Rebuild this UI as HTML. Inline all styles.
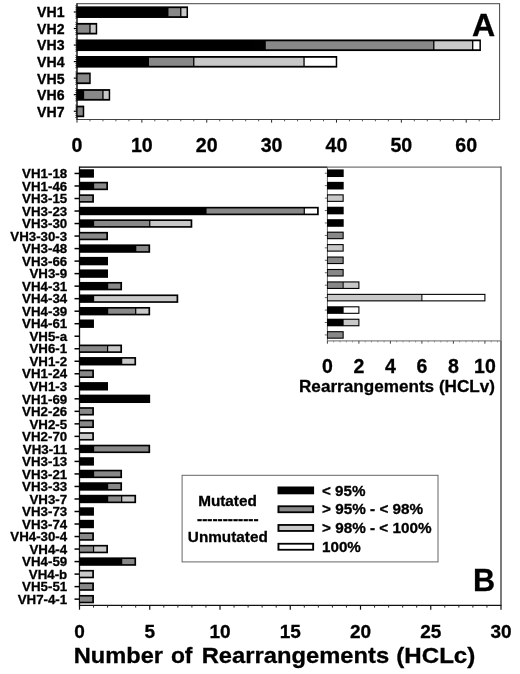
<!DOCTYPE html>
<html><head><meta charset="utf-8"><title>Chart</title>
<style>
html,body{margin:0;padding:0;background:#fff;}
body{width:520px;height:674px;overflow:hidden;font-family:"Liberation Sans",sans-serif;}
svg{display:block;will-change:transform;opacity:0.999;}
svg text{font-family:"Liberation Sans",sans-serif;font-weight:bold;fill:#000;stroke:#000;stroke-width:0.3px;}
</style></head><body>
<svg width="520" height="674" viewBox="0 0 520 674">
<rect x="0" y="0" width="520" height="674" fill="#fff"/>
<rect x="77.0" y="3.7" width="422.60" height="115.80" fill="none" stroke="#444" stroke-width="1"/>
<line x1="77.00" y1="3.20" x2="77.00" y2="120.00" stroke="#2a2a2a" stroke-width="1.3"/>
<line x1="73.80" y1="11.97" x2="77.00" y2="11.97" stroke="#000" stroke-width="1.2"/>
<line x1="75.30" y1="5.77" x2="77.00" y2="5.77" stroke="#333" stroke-width="0.9"/>
<line x1="75.30" y1="7.84" x2="77.00" y2="7.84" stroke="#333" stroke-width="0.9"/>
<line x1="75.30" y1="9.90" x2="77.00" y2="9.90" stroke="#333" stroke-width="0.9"/>
<line x1="75.30" y1="14.04" x2="77.00" y2="14.04" stroke="#333" stroke-width="0.9"/>
<line x1="75.30" y1="16.11" x2="77.00" y2="16.11" stroke="#333" stroke-width="0.9"/>
<line x1="75.30" y1="18.17" x2="77.00" y2="18.17" stroke="#333" stroke-width="0.9"/>
<rect x="76.40" y="6.37" width="111.63" height="11.60" fill="#000"/>
<rect x="168.47" y="8.17" width="11.67" height="8.00" fill="#888888"/>
<rect x="181.44" y="8.17" width="5.09" height="8.00" fill="#c8c8c8"/>
<text x="64.50" y="17.37" font-size="14.1" text-anchor="end" >VH1</text>
<line x1="73.80" y1="28.51" x2="77.00" y2="28.51" stroke="#000" stroke-width="1.2"/>
<line x1="75.30" y1="22.31" x2="77.00" y2="22.31" stroke="#333" stroke-width="0.9"/>
<line x1="75.30" y1="24.38" x2="77.00" y2="24.38" stroke="#333" stroke-width="0.9"/>
<line x1="75.30" y1="26.45" x2="77.00" y2="26.45" stroke="#333" stroke-width="0.9"/>
<line x1="75.30" y1="30.58" x2="77.00" y2="30.58" stroke="#333" stroke-width="0.9"/>
<line x1="75.30" y1="32.65" x2="77.00" y2="32.65" stroke="#333" stroke-width="0.9"/>
<line x1="75.30" y1="34.72" x2="77.00" y2="34.72" stroke="#333" stroke-width="0.9"/>
<rect x="76.40" y="22.91" width="20.81" height="11.60" fill="#000"/>
<rect x="77.60" y="24.71" width="11.72" height="8.00" fill="#888888"/>
<rect x="90.62" y="24.71" width="5.09" height="8.00" fill="#c8c8c8"/>
<text x="64.50" y="33.91" font-size="14.1" text-anchor="end" >VH2</text>
<line x1="73.80" y1="45.06" x2="77.00" y2="45.06" stroke="#000" stroke-width="1.2"/>
<line x1="75.30" y1="38.85" x2="77.00" y2="38.85" stroke="#333" stroke-width="0.9"/>
<line x1="75.30" y1="40.92" x2="77.00" y2="40.92" stroke="#333" stroke-width="0.9"/>
<line x1="75.30" y1="42.99" x2="77.00" y2="42.99" stroke="#333" stroke-width="0.9"/>
<line x1="75.30" y1="47.12" x2="77.00" y2="47.12" stroke="#333" stroke-width="0.9"/>
<line x1="75.30" y1="49.19" x2="77.00" y2="49.19" stroke="#333" stroke-width="0.9"/>
<line x1="75.30" y1="51.26" x2="77.00" y2="51.26" stroke="#333" stroke-width="0.9"/>
<rect x="76.40" y="39.46" width="404.52" height="11.60" fill="#000"/>
<rect x="265.77" y="41.26" width="167.36" height="8.00" fill="#888888"/>
<rect x="434.43" y="41.26" width="37.62" height="8.00" fill="#c8c8c8"/>
<rect x="473.36" y="41.26" width="6.06" height="8.00" fill="#fff"/>
<text x="64.50" y="50.46" font-size="14.1" text-anchor="end" >VH3</text>
<line x1="73.80" y1="61.60" x2="77.00" y2="61.60" stroke="#000" stroke-width="1.2"/>
<line x1="75.30" y1="55.40" x2="77.00" y2="55.40" stroke="#333" stroke-width="0.9"/>
<line x1="75.30" y1="57.46" x2="77.00" y2="57.46" stroke="#333" stroke-width="0.9"/>
<line x1="75.30" y1="59.53" x2="77.00" y2="59.53" stroke="#333" stroke-width="0.9"/>
<line x1="75.30" y1="63.67" x2="77.00" y2="63.67" stroke="#333" stroke-width="0.9"/>
<line x1="75.30" y1="65.74" x2="77.00" y2="65.74" stroke="#333" stroke-width="0.9"/>
<line x1="75.30" y1="67.80" x2="77.00" y2="67.80" stroke="#333" stroke-width="0.9"/>
<rect x="76.40" y="56.00" width="260.83" height="11.60" fill="#000"/>
<rect x="149.01" y="57.80" width="44.11" height="8.00" fill="#888888"/>
<rect x="194.42" y="57.80" width="108.98" height="8.00" fill="#c8c8c8"/>
<rect x="304.69" y="57.80" width="31.04" height="8.00" fill="#fff"/>
<text x="64.50" y="67.00" font-size="14.1" text-anchor="end" >VH4</text>
<line x1="73.80" y1="78.14" x2="77.00" y2="78.14" stroke="#000" stroke-width="1.2"/>
<line x1="75.30" y1="71.94" x2="77.00" y2="71.94" stroke="#333" stroke-width="0.9"/>
<line x1="75.30" y1="74.01" x2="77.00" y2="74.01" stroke="#333" stroke-width="0.9"/>
<line x1="75.30" y1="76.07" x2="77.00" y2="76.07" stroke="#333" stroke-width="0.9"/>
<line x1="75.30" y1="80.21" x2="77.00" y2="80.21" stroke="#333" stroke-width="0.9"/>
<line x1="75.30" y1="82.28" x2="77.00" y2="82.28" stroke="#333" stroke-width="0.9"/>
<line x1="75.30" y1="84.35" x2="77.00" y2="84.35" stroke="#333" stroke-width="0.9"/>
<rect x="76.40" y="72.54" width="14.32" height="11.60" fill="#000"/>
<rect x="77.60" y="74.34" width="11.62" height="8.00" fill="#888888"/>
<text x="64.50" y="83.54" font-size="14.1" text-anchor="end" >VH5</text>
<line x1="73.80" y1="94.69" x2="77.00" y2="94.69" stroke="#000" stroke-width="1.2"/>
<line x1="75.30" y1="88.48" x2="77.00" y2="88.48" stroke="#333" stroke-width="0.9"/>
<line x1="75.30" y1="90.55" x2="77.00" y2="90.55" stroke="#333" stroke-width="0.9"/>
<line x1="75.30" y1="92.62" x2="77.00" y2="92.62" stroke="#333" stroke-width="0.9"/>
<line x1="75.30" y1="96.75" x2="77.00" y2="96.75" stroke="#333" stroke-width="0.9"/>
<line x1="75.30" y1="98.82" x2="77.00" y2="98.82" stroke="#333" stroke-width="0.9"/>
<line x1="75.30" y1="100.89" x2="77.00" y2="100.89" stroke="#333" stroke-width="0.9"/>
<rect x="76.40" y="89.09" width="33.79" height="11.60" fill="#000"/>
<rect x="84.14" y="90.89" width="18.16" height="8.00" fill="#888888"/>
<rect x="103.60" y="90.89" width="5.09" height="8.00" fill="#c8c8c8"/>
<text x="64.50" y="100.09" font-size="14.1" text-anchor="end" >VH6</text>
<line x1="73.80" y1="111.23" x2="77.00" y2="111.23" stroke="#000" stroke-width="1.2"/>
<line x1="75.30" y1="105.02" x2="77.00" y2="105.02" stroke="#333" stroke-width="0.9"/>
<line x1="75.30" y1="107.09" x2="77.00" y2="107.09" stroke="#333" stroke-width="0.9"/>
<line x1="75.30" y1="109.16" x2="77.00" y2="109.16" stroke="#333" stroke-width="0.9"/>
<line x1="75.30" y1="113.30" x2="77.00" y2="113.30" stroke="#333" stroke-width="0.9"/>
<line x1="75.30" y1="115.36" x2="77.00" y2="115.36" stroke="#333" stroke-width="0.9"/>
<line x1="75.30" y1="117.43" x2="77.00" y2="117.43" stroke="#333" stroke-width="0.9"/>
<rect x="76.40" y="105.63" width="7.84" height="11.60" fill="#000"/>
<rect x="77.60" y="107.43" width="5.14" height="8.00" fill="#888888"/>
<text x="64.50" y="116.63" font-size="14.1" text-anchor="end" >VH7</text>
<line x1="77.00" y1="119.50" x2="77.00" y2="122.70" stroke="#2a2a2a" stroke-width="1"/>
<line x1="89.97" y1="119.50" x2="89.97" y2="121.30" stroke="#444" stroke-width="0.9"/>
<line x1="102.95" y1="119.50" x2="102.95" y2="121.30" stroke="#444" stroke-width="0.9"/>
<line x1="115.92" y1="119.50" x2="115.92" y2="121.30" stroke="#444" stroke-width="0.9"/>
<line x1="128.90" y1="119.50" x2="128.90" y2="121.30" stroke="#444" stroke-width="0.9"/>
<line x1="141.87" y1="119.50" x2="141.87" y2="122.70" stroke="#2a2a2a" stroke-width="1"/>
<line x1="154.84" y1="119.50" x2="154.84" y2="121.30" stroke="#444" stroke-width="0.9"/>
<line x1="167.82" y1="119.50" x2="167.82" y2="121.30" stroke="#444" stroke-width="0.9"/>
<line x1="180.79" y1="119.50" x2="180.79" y2="121.30" stroke="#444" stroke-width="0.9"/>
<line x1="193.77" y1="119.50" x2="193.77" y2="121.30" stroke="#444" stroke-width="0.9"/>
<line x1="206.74" y1="119.50" x2="206.74" y2="122.70" stroke="#2a2a2a" stroke-width="1"/>
<line x1="219.71" y1="119.50" x2="219.71" y2="121.30" stroke="#444" stroke-width="0.9"/>
<line x1="232.69" y1="119.50" x2="232.69" y2="121.30" stroke="#444" stroke-width="0.9"/>
<line x1="245.66" y1="119.50" x2="245.66" y2="121.30" stroke="#444" stroke-width="0.9"/>
<line x1="258.64" y1="119.50" x2="258.64" y2="121.30" stroke="#444" stroke-width="0.9"/>
<line x1="271.61" y1="119.50" x2="271.61" y2="122.70" stroke="#2a2a2a" stroke-width="1"/>
<line x1="284.58" y1="119.50" x2="284.58" y2="121.30" stroke="#444" stroke-width="0.9"/>
<line x1="297.56" y1="119.50" x2="297.56" y2="121.30" stroke="#444" stroke-width="0.9"/>
<line x1="310.53" y1="119.50" x2="310.53" y2="121.30" stroke="#444" stroke-width="0.9"/>
<line x1="323.51" y1="119.50" x2="323.51" y2="121.30" stroke="#444" stroke-width="0.9"/>
<line x1="336.48" y1="119.50" x2="336.48" y2="122.70" stroke="#2a2a2a" stroke-width="1"/>
<line x1="349.45" y1="119.50" x2="349.45" y2="121.30" stroke="#444" stroke-width="0.9"/>
<line x1="362.43" y1="119.50" x2="362.43" y2="121.30" stroke="#444" stroke-width="0.9"/>
<line x1="375.40" y1="119.50" x2="375.40" y2="121.30" stroke="#444" stroke-width="0.9"/>
<line x1="388.38" y1="119.50" x2="388.38" y2="121.30" stroke="#444" stroke-width="0.9"/>
<line x1="401.35" y1="119.50" x2="401.35" y2="122.70" stroke="#2a2a2a" stroke-width="1"/>
<line x1="414.32" y1="119.50" x2="414.32" y2="121.30" stroke="#444" stroke-width="0.9"/>
<line x1="427.30" y1="119.50" x2="427.30" y2="121.30" stroke="#444" stroke-width="0.9"/>
<line x1="440.27" y1="119.50" x2="440.27" y2="121.30" stroke="#444" stroke-width="0.9"/>
<line x1="453.25" y1="119.50" x2="453.25" y2="121.30" stroke="#444" stroke-width="0.9"/>
<line x1="466.22" y1="119.50" x2="466.22" y2="122.70" stroke="#2a2a2a" stroke-width="1"/>
<line x1="479.19" y1="119.50" x2="479.19" y2="121.30" stroke="#444" stroke-width="0.9"/>
<line x1="492.17" y1="119.50" x2="492.17" y2="121.30" stroke="#444" stroke-width="0.9"/>
<text x="77.00" y="151.70" font-size="19.6" text-anchor="middle" >0</text>
<text x="141.87" y="151.70" font-size="19.6" text-anchor="middle" >10</text>
<text x="206.74" y="151.70" font-size="19.6" text-anchor="middle" >20</text>
<text x="271.61" y="151.70" font-size="19.6" text-anchor="middle" >30</text>
<text x="336.48" y="151.70" font-size="19.6" text-anchor="middle" >40</text>
<text x="401.35" y="151.70" font-size="19.6" text-anchor="middle" >50</text>
<text x="466.22" y="151.70" font-size="19.6" text-anchor="middle" >60</text>
<text x="471.90" y="35.80" font-size="31.3" text-anchor="start" textLength="23.2" lengthAdjust="spacingAndGlyphs" >A</text>
<line x1="79.50" y1="166.50" x2="79.50" y2="605.90" stroke="#111" stroke-width="1.3"/>
<line x1="79.50" y1="605.30" x2="501.50" y2="605.30" stroke="#111" stroke-width="1.3"/>
<line x1="79.50" y1="167.10" x2="327.40" y2="167.10" stroke="#000" stroke-width="1.3"/>
<line x1="327.40" y1="167.10" x2="501.00" y2="167.10" stroke="#777" stroke-width="1.1"/>
<line x1="501.00" y1="166.60" x2="501.00" y2="341.00" stroke="#555" stroke-width="1.2"/>
<line x1="501.00" y1="341.00" x2="501.00" y2="605.30" stroke="#333" stroke-width="1.3"/>
<line x1="327.40" y1="167.10" x2="327.40" y2="340.90" stroke="#666" stroke-width="1"/>
<line x1="327.40" y1="340.90" x2="501.00" y2="340.90" stroke="#666" stroke-width="1"/>
<line x1="74.50" y1="173.46" x2="79.50" y2="173.46" stroke="#000" stroke-width="1.5"/>
<rect x="79.10" y="169.26" width="14.85" height="8.40" fill="#000"/>
<text x="67.20" y="178.16" font-size="13.3" text-anchor="end" >VH1-18</text>
<line x1="324.80" y1="173.22" x2="327.40" y2="173.22" stroke="#666" stroke-width="1"/>
<rect x="327.00" y="169.42" width="16.70" height="7.60" fill="#000"/>
<line x1="74.50" y1="185.98" x2="79.50" y2="185.98" stroke="#000" stroke-width="1.5"/>
<rect x="79.10" y="181.78" width="28.90" height="8.40" fill="#000"/>
<rect x="94.15" y="183.43" width="12.15" height="5.10" fill="#888888"/>
<text x="67.20" y="190.68" font-size="13.3" text-anchor="end" >VH1-46</text>
<line x1="324.80" y1="185.66" x2="327.40" y2="185.66" stroke="#666" stroke-width="1"/>
<rect x="327.00" y="181.86" width="16.70" height="7.60" fill="#000"/>
<line x1="74.50" y1="198.50" x2="79.50" y2="198.50" stroke="#000" stroke-width="1.5"/>
<rect x="79.10" y="194.30" width="14.85" height="8.40" fill="#000"/>
<rect x="79.90" y="195.95" width="12.35" height="5.10" fill="#888888"/>
<text x="67.20" y="203.20" font-size="13.3" text-anchor="end" >VH3-15</text>
<line x1="324.80" y1="198.10" x2="327.40" y2="198.10" stroke="#666" stroke-width="1"/>
<rect x="327.00" y="194.30" width="16.70" height="7.60" fill="#000"/>
<rect x="327.80" y="195.40" width="14.80" height="5.40" fill="#c8c8c8"/>
<line x1="74.50" y1="211.02" x2="79.50" y2="211.02" stroke="#000" stroke-width="1.5"/>
<rect x="79.10" y="206.82" width="239.65" height="8.40" fill="#000"/>
<rect x="206.55" y="208.47" width="97.15" height="5.10" fill="#888888"/>
<rect x="304.90" y="208.47" width="12.15" height="5.10" fill="#fff"/>
<text x="67.20" y="215.72" font-size="13.3" text-anchor="end" >VH3-23</text>
<line x1="324.80" y1="210.54" x2="327.40" y2="210.54" stroke="#666" stroke-width="1"/>
<rect x="327.00" y="206.74" width="16.70" height="7.60" fill="#000"/>
<line x1="74.50" y1="223.54" x2="79.50" y2="223.54" stroke="#000" stroke-width="1.5"/>
<rect x="79.10" y="219.34" width="113.20" height="8.40" fill="#000"/>
<rect x="94.15" y="220.99" width="55.00" height="5.10" fill="#888888"/>
<rect x="150.35" y="220.99" width="40.25" height="5.10" fill="#c8c8c8"/>
<text x="67.20" y="228.24" font-size="13.3" text-anchor="end" >VH3-30</text>
<line x1="324.80" y1="222.98" x2="327.40" y2="222.98" stroke="#666" stroke-width="1"/>
<rect x="327.00" y="219.18" width="16.70" height="7.60" fill="#000"/>
<line x1="74.50" y1="236.06" x2="79.50" y2="236.06" stroke="#000" stroke-width="1.5"/>
<rect x="79.10" y="231.86" width="28.90" height="8.40" fill="#000"/>
<rect x="79.90" y="233.51" width="26.40" height="5.10" fill="#888888"/>
<text x="67.20" y="240.76" font-size="13.3" text-anchor="end" >VH3-30-3</text>
<line x1="324.80" y1="235.42" x2="327.40" y2="235.42" stroke="#666" stroke-width="1"/>
<rect x="327.00" y="231.62" width="16.70" height="7.60" fill="#000"/>
<rect x="327.80" y="232.72" width="14.80" height="5.40" fill="#888888"/>
<line x1="74.50" y1="248.58" x2="79.50" y2="248.58" stroke="#000" stroke-width="1.5"/>
<rect x="79.10" y="244.38" width="71.05" height="8.40" fill="#000"/>
<rect x="136.30" y="246.03" width="12.15" height="5.10" fill="#888888"/>
<text x="67.20" y="253.28" font-size="13.3" text-anchor="end" >VH3-48</text>
<line x1="324.80" y1="247.86" x2="327.40" y2="247.86" stroke="#666" stroke-width="1"/>
<rect x="327.00" y="244.06" width="16.70" height="7.60" fill="#000"/>
<rect x="327.80" y="245.16" width="14.80" height="5.40" fill="#c8c8c8"/>
<line x1="74.50" y1="261.10" x2="79.50" y2="261.10" stroke="#000" stroke-width="1.5"/>
<rect x="79.10" y="256.90" width="28.90" height="8.40" fill="#000"/>
<text x="67.20" y="265.80" font-size="13.3" text-anchor="end" >VH3-66</text>
<line x1="324.80" y1="260.30" x2="327.40" y2="260.30" stroke="#666" stroke-width="1"/>
<rect x="327.00" y="256.50" width="16.70" height="7.60" fill="#000"/>
<rect x="327.80" y="257.60" width="14.80" height="5.40" fill="#888888"/>
<line x1="74.50" y1="273.62" x2="79.50" y2="273.62" stroke="#000" stroke-width="1.5"/>
<rect x="79.10" y="269.42" width="28.90" height="8.40" fill="#000"/>
<text x="67.20" y="278.32" font-size="13.3" text-anchor="end" >VH3-9</text>
<line x1="324.80" y1="272.74" x2="327.40" y2="272.74" stroke="#666" stroke-width="1"/>
<rect x="327.00" y="268.94" width="16.70" height="7.60" fill="#000"/>
<rect x="327.80" y="270.04" width="14.80" height="5.40" fill="#888888"/>
<line x1="74.50" y1="286.14" x2="79.50" y2="286.14" stroke="#000" stroke-width="1.5"/>
<rect x="79.10" y="281.94" width="42.95" height="8.40" fill="#000"/>
<rect x="108.20" y="283.59" width="12.15" height="5.10" fill="#888888"/>
<text x="67.20" y="290.84" font-size="13.3" text-anchor="end" >VH4-31</text>
<line x1="324.80" y1="285.18" x2="327.40" y2="285.18" stroke="#666" stroke-width="1"/>
<rect x="327.00" y="281.38" width="32.45" height="7.60" fill="#000"/>
<rect x="327.80" y="282.48" width="14.85" height="5.40" fill="#888888"/>
<rect x="343.65" y="282.48" width="14.70" height="5.40" fill="#c8c8c8"/>
<line x1="74.50" y1="298.66" x2="79.50" y2="298.66" stroke="#000" stroke-width="1.5"/>
<rect x="79.10" y="294.46" width="99.15" height="8.40" fill="#000"/>
<rect x="94.15" y="296.11" width="82.40" height="5.10" fill="#c8c8c8"/>
<text x="67.20" y="303.36" font-size="13.3" text-anchor="end" >VH4-34</text>
<line x1="324.80" y1="297.62" x2="327.40" y2="297.62" stroke="#666" stroke-width="1"/>
<rect x="327.00" y="293.82" width="158.45" height="7.60" fill="#000"/>
<rect x="327.80" y="294.92" width="93.60" height="5.40" fill="#c8c8c8"/>
<rect x="422.40" y="294.92" width="61.95" height="5.40" fill="#fff"/>
<line x1="74.50" y1="311.18" x2="79.50" y2="311.18" stroke="#000" stroke-width="1.5"/>
<rect x="79.10" y="306.98" width="71.05" height="8.40" fill="#000"/>
<rect x="108.20" y="308.63" width="26.90" height="5.10" fill="#888888"/>
<rect x="136.30" y="308.63" width="12.15" height="5.10" fill="#c8c8c8"/>
<text x="67.20" y="315.88" font-size="13.3" text-anchor="end" >VH4-39</text>
<line x1="324.80" y1="310.06" x2="327.40" y2="310.06" stroke="#666" stroke-width="1"/>
<rect x="327.00" y="306.26" width="32.45" height="7.60" fill="#000"/>
<rect x="343.65" y="307.36" width="14.70" height="5.40" fill="#fff"/>
<line x1="74.50" y1="323.70" x2="79.50" y2="323.70" stroke="#000" stroke-width="1.5"/>
<rect x="79.10" y="319.50" width="14.85" height="8.40" fill="#000"/>
<text x="67.20" y="328.40" font-size="13.3" text-anchor="end" >VH4-61</text>
<line x1="324.80" y1="322.50" x2="327.40" y2="322.50" stroke="#666" stroke-width="1"/>
<rect x="327.00" y="318.70" width="32.45" height="7.60" fill="#000"/>
<rect x="343.65" y="319.80" width="14.70" height="5.40" fill="#c8c8c8"/>
<line x1="74.50" y1="336.22" x2="79.50" y2="336.22" stroke="#000" stroke-width="1.5"/>
<text x="67.20" y="340.92" font-size="13.3" text-anchor="end" >VH5-a</text>
<line x1="324.80" y1="334.94" x2="327.40" y2="334.94" stroke="#666" stroke-width="1"/>
<rect x="327.00" y="331.14" width="16.70" height="7.60" fill="#000"/>
<rect x="327.80" y="332.24" width="14.80" height="5.40" fill="#888888"/>
<line x1="74.50" y1="348.74" x2="79.50" y2="348.74" stroke="#000" stroke-width="1.5"/>
<rect x="79.10" y="344.54" width="42.95" height="8.40" fill="#000"/>
<rect x="79.90" y="346.19" width="27.10" height="5.10" fill="#888888"/>
<rect x="108.20" y="346.19" width="12.15" height="5.10" fill="#c8c8c8"/>
<text x="67.20" y="353.44" font-size="13.3" text-anchor="end" >VH6-1</text>
<line x1="74.50" y1="361.26" x2="79.50" y2="361.26" stroke="#000" stroke-width="1.5"/>
<rect x="79.10" y="357.06" width="57.00" height="8.40" fill="#000"/>
<rect x="122.25" y="358.71" width="12.15" height="5.10" fill="#c8c8c8"/>
<text x="67.20" y="365.96" font-size="13.3" text-anchor="end" >VH1-2</text>
<line x1="74.50" y1="373.78" x2="79.50" y2="373.78" stroke="#000" stroke-width="1.5"/>
<rect x="79.10" y="369.58" width="14.85" height="8.40" fill="#000"/>
<rect x="79.90" y="371.23" width="12.35" height="5.10" fill="#888888"/>
<text x="67.20" y="378.48" font-size="13.3" text-anchor="end" >VH1-24</text>
<line x1="74.50" y1="386.30" x2="79.50" y2="386.30" stroke="#000" stroke-width="1.5"/>
<rect x="79.10" y="382.10" width="28.90" height="8.40" fill="#000"/>
<text x="67.20" y="391.00" font-size="13.3" text-anchor="end" >VH1-3</text>
<line x1="74.50" y1="398.82" x2="79.50" y2="398.82" stroke="#000" stroke-width="1.5"/>
<rect x="79.10" y="394.62" width="71.05" height="8.40" fill="#000"/>
<text x="67.20" y="403.52" font-size="13.3" text-anchor="end" >VH1-69</text>
<line x1="74.50" y1="411.34" x2="79.50" y2="411.34" stroke="#000" stroke-width="1.5"/>
<rect x="79.10" y="407.14" width="14.85" height="8.40" fill="#000"/>
<rect x="79.90" y="408.79" width="12.35" height="5.10" fill="#888888"/>
<text x="67.20" y="416.04" font-size="13.3" text-anchor="end" >VH2-26</text>
<line x1="74.50" y1="423.86" x2="79.50" y2="423.86" stroke="#000" stroke-width="1.5"/>
<rect x="79.10" y="419.66" width="14.85" height="8.40" fill="#000"/>
<rect x="79.90" y="421.31" width="12.35" height="5.10" fill="#888888"/>
<text x="67.20" y="428.56" font-size="13.3" text-anchor="end" >VH2-5</text>
<line x1="74.50" y1="436.38" x2="79.50" y2="436.38" stroke="#000" stroke-width="1.5"/>
<rect x="79.10" y="432.18" width="14.85" height="8.40" fill="#000"/>
<rect x="79.90" y="433.83" width="12.35" height="5.10" fill="#c8c8c8"/>
<text x="67.20" y="441.08" font-size="13.3" text-anchor="end" >VH2-70</text>
<line x1="74.50" y1="448.90" x2="79.50" y2="448.90" stroke="#000" stroke-width="1.5"/>
<rect x="79.10" y="444.70" width="71.05" height="8.40" fill="#000"/>
<rect x="94.15" y="446.35" width="54.30" height="5.10" fill="#888888"/>
<text x="67.20" y="453.60" font-size="13.3" text-anchor="end" >VH3-11</text>
<line x1="74.50" y1="461.42" x2="79.50" y2="461.42" stroke="#000" stroke-width="1.5"/>
<rect x="79.10" y="457.22" width="14.85" height="8.40" fill="#000"/>
<text x="67.20" y="466.12" font-size="13.3" text-anchor="end" >VH3-13</text>
<line x1="74.50" y1="473.94" x2="79.50" y2="473.94" stroke="#000" stroke-width="1.5"/>
<rect x="79.10" y="469.74" width="42.95" height="8.40" fill="#000"/>
<rect x="94.15" y="471.39" width="26.20" height="5.10" fill="#888888"/>
<text x="67.20" y="478.64" font-size="13.3" text-anchor="end" >VH3-21</text>
<line x1="74.50" y1="486.46" x2="79.50" y2="486.46" stroke="#000" stroke-width="1.5"/>
<rect x="79.10" y="482.26" width="42.95" height="8.40" fill="#000"/>
<rect x="108.20" y="483.91" width="12.15" height="5.10" fill="#888888"/>
<text x="67.20" y="491.16" font-size="13.3" text-anchor="end" >VH3-33</text>
<line x1="74.50" y1="498.98" x2="79.50" y2="498.98" stroke="#000" stroke-width="1.5"/>
<rect x="79.10" y="494.78" width="57.00" height="8.40" fill="#000"/>
<rect x="108.20" y="496.43" width="12.85" height="5.10" fill="#888888"/>
<rect x="122.25" y="496.43" width="12.15" height="5.10" fill="#c8c8c8"/>
<text x="67.20" y="503.68" font-size="13.3" text-anchor="end" >VH3-7</text>
<line x1="74.50" y1="511.50" x2="79.50" y2="511.50" stroke="#000" stroke-width="1.5"/>
<rect x="79.10" y="507.30" width="14.85" height="8.40" fill="#000"/>
<text x="67.20" y="516.20" font-size="13.3" text-anchor="end" >VH3-73</text>
<line x1="74.50" y1="524.02" x2="79.50" y2="524.02" stroke="#000" stroke-width="1.5"/>
<rect x="79.10" y="519.82" width="14.85" height="8.40" fill="#000"/>
<text x="67.20" y="528.72" font-size="13.3" text-anchor="end" >VH3-74</text>
<line x1="74.50" y1="536.54" x2="79.50" y2="536.54" stroke="#000" stroke-width="1.5"/>
<rect x="79.10" y="532.34" width="14.85" height="8.40" fill="#000"/>
<rect x="79.90" y="533.99" width="12.35" height="5.10" fill="#888888"/>
<text x="67.20" y="541.24" font-size="13.3" text-anchor="end" >VH4-30-4</text>
<line x1="74.50" y1="549.06" x2="79.50" y2="549.06" stroke="#000" stroke-width="1.5"/>
<rect x="79.10" y="544.86" width="28.90" height="8.40" fill="#000"/>
<rect x="79.90" y="546.51" width="13.05" height="5.10" fill="#888888"/>
<rect x="94.15" y="546.51" width="12.15" height="5.10" fill="#c8c8c8"/>
<text x="67.20" y="553.76" font-size="13.3" text-anchor="end" >VH4-4</text>
<line x1="74.50" y1="561.58" x2="79.50" y2="561.58" stroke="#000" stroke-width="1.5"/>
<rect x="79.10" y="557.38" width="57.00" height="8.40" fill="#000"/>
<rect x="122.25" y="559.03" width="12.15" height="5.10" fill="#888888"/>
<text x="67.20" y="566.28" font-size="13.3" text-anchor="end" >VH4-59</text>
<line x1="74.50" y1="574.10" x2="79.50" y2="574.10" stroke="#000" stroke-width="1.5"/>
<rect x="79.10" y="569.90" width="14.85" height="8.40" fill="#000"/>
<rect x="79.90" y="571.55" width="12.35" height="5.10" fill="#c8c8c8"/>
<text x="67.20" y="578.80" font-size="13.3" text-anchor="end" >VH4-b</text>
<line x1="74.50" y1="586.62" x2="79.50" y2="586.62" stroke="#000" stroke-width="1.5"/>
<rect x="79.10" y="582.42" width="14.85" height="8.40" fill="#000"/>
<rect x="79.90" y="584.07" width="12.35" height="5.10" fill="#888888"/>
<text x="67.20" y="591.32" font-size="13.3" text-anchor="end" >VH5-51</text>
<line x1="74.50" y1="599.14" x2="79.50" y2="599.14" stroke="#000" stroke-width="1.5"/>
<rect x="79.10" y="594.94" width="14.85" height="8.40" fill="#000"/>
<rect x="79.90" y="596.59" width="12.35" height="5.10" fill="#888888"/>
<text x="67.20" y="603.84" font-size="13.3" text-anchor="end" >VH7-4-1</text>
<line x1="79.50" y1="605.30" x2="79.50" y2="609.70" stroke="#111" stroke-width="1.2"/>
<line x1="93.55" y1="605.30" x2="93.55" y2="607.60" stroke="#222" stroke-width="1.0"/>
<line x1="107.60" y1="605.30" x2="107.60" y2="607.60" stroke="#222" stroke-width="1.0"/>
<line x1="121.65" y1="605.30" x2="121.65" y2="607.60" stroke="#222" stroke-width="1.0"/>
<line x1="135.70" y1="605.30" x2="135.70" y2="607.60" stroke="#222" stroke-width="1.0"/>
<line x1="149.75" y1="605.30" x2="149.75" y2="609.70" stroke="#111" stroke-width="1.2"/>
<line x1="163.80" y1="605.30" x2="163.80" y2="607.60" stroke="#222" stroke-width="1.0"/>
<line x1="177.85" y1="605.30" x2="177.85" y2="607.60" stroke="#222" stroke-width="1.0"/>
<line x1="191.90" y1="605.30" x2="191.90" y2="607.60" stroke="#222" stroke-width="1.0"/>
<line x1="205.95" y1="605.30" x2="205.95" y2="607.60" stroke="#222" stroke-width="1.0"/>
<line x1="220.00" y1="605.30" x2="220.00" y2="609.70" stroke="#111" stroke-width="1.2"/>
<line x1="234.05" y1="605.30" x2="234.05" y2="607.60" stroke="#222" stroke-width="1.0"/>
<line x1="248.10" y1="605.30" x2="248.10" y2="607.60" stroke="#222" stroke-width="1.0"/>
<line x1="262.15" y1="605.30" x2="262.15" y2="607.60" stroke="#222" stroke-width="1.0"/>
<line x1="276.20" y1="605.30" x2="276.20" y2="607.60" stroke="#222" stroke-width="1.0"/>
<line x1="290.25" y1="605.30" x2="290.25" y2="609.70" stroke="#111" stroke-width="1.2"/>
<line x1="304.30" y1="605.30" x2="304.30" y2="607.60" stroke="#222" stroke-width="1.0"/>
<line x1="318.35" y1="605.30" x2="318.35" y2="607.60" stroke="#222" stroke-width="1.0"/>
<line x1="332.40" y1="605.30" x2="332.40" y2="607.60" stroke="#222" stroke-width="1.0"/>
<line x1="346.45" y1="605.30" x2="346.45" y2="607.60" stroke="#222" stroke-width="1.0"/>
<line x1="360.50" y1="605.30" x2="360.50" y2="609.70" stroke="#111" stroke-width="1.2"/>
<line x1="374.55" y1="605.30" x2="374.55" y2="607.60" stroke="#222" stroke-width="1.0"/>
<line x1="388.60" y1="605.30" x2="388.60" y2="607.60" stroke="#222" stroke-width="1.0"/>
<line x1="402.65" y1="605.30" x2="402.65" y2="607.60" stroke="#222" stroke-width="1.0"/>
<line x1="416.70" y1="605.30" x2="416.70" y2="607.60" stroke="#222" stroke-width="1.0"/>
<line x1="430.75" y1="605.30" x2="430.75" y2="609.70" stroke="#111" stroke-width="1.2"/>
<line x1="444.80" y1="605.30" x2="444.80" y2="607.60" stroke="#222" stroke-width="1.0"/>
<line x1="458.85" y1="605.30" x2="458.85" y2="607.60" stroke="#222" stroke-width="1.0"/>
<line x1="472.90" y1="605.30" x2="472.90" y2="607.60" stroke="#222" stroke-width="1.0"/>
<line x1="486.95" y1="605.30" x2="486.95" y2="607.60" stroke="#222" stroke-width="1.0"/>
<line x1="501.00" y1="605.30" x2="501.00" y2="609.70" stroke="#111" stroke-width="1.2"/>
<text x="79.50" y="638.40" font-size="19.0" text-anchor="middle" >0</text>
<text x="149.75" y="638.40" font-size="19.0" text-anchor="middle" >5</text>
<text x="220.00" y="638.40" font-size="19.0" text-anchor="middle" >10</text>
<text x="290.25" y="638.40" font-size="19.0" text-anchor="middle" >15</text>
<text x="360.50" y="638.40" font-size="19.0" text-anchor="middle" >20</text>
<text x="430.75" y="638.40" font-size="19.0" text-anchor="middle" >25</text>
<text x="501.00" y="638.40" font-size="19.0" text-anchor="middle" >30</text>
<line x1="327.40" y1="340.90" x2="327.40" y2="343.70" stroke="#444" stroke-width="1"/>
<line x1="333.70" y1="340.90" x2="333.70" y2="342.40" stroke="#777" stroke-width="0.8"/>
<line x1="340.00" y1="340.90" x2="340.00" y2="342.40" stroke="#777" stroke-width="0.8"/>
<line x1="346.30" y1="340.90" x2="346.30" y2="342.40" stroke="#777" stroke-width="0.8"/>
<line x1="352.60" y1="340.90" x2="352.60" y2="342.40" stroke="#777" stroke-width="0.8"/>
<line x1="358.90" y1="340.90" x2="358.90" y2="343.70" stroke="#444" stroke-width="1"/>
<line x1="365.20" y1="340.90" x2="365.20" y2="342.40" stroke="#777" stroke-width="0.8"/>
<line x1="371.50" y1="340.90" x2="371.50" y2="342.40" stroke="#777" stroke-width="0.8"/>
<line x1="377.80" y1="340.90" x2="377.80" y2="342.40" stroke="#777" stroke-width="0.8"/>
<line x1="384.10" y1="340.90" x2="384.10" y2="342.40" stroke="#777" stroke-width="0.8"/>
<line x1="390.40" y1="340.90" x2="390.40" y2="343.70" stroke="#444" stroke-width="1"/>
<line x1="396.70" y1="340.90" x2="396.70" y2="342.40" stroke="#777" stroke-width="0.8"/>
<line x1="403.00" y1="340.90" x2="403.00" y2="342.40" stroke="#777" stroke-width="0.8"/>
<line x1="409.30" y1="340.90" x2="409.30" y2="342.40" stroke="#777" stroke-width="0.8"/>
<line x1="415.60" y1="340.90" x2="415.60" y2="342.40" stroke="#777" stroke-width="0.8"/>
<line x1="421.90" y1="340.90" x2="421.90" y2="343.70" stroke="#444" stroke-width="1"/>
<line x1="428.20" y1="340.90" x2="428.20" y2="342.40" stroke="#777" stroke-width="0.8"/>
<line x1="434.50" y1="340.90" x2="434.50" y2="342.40" stroke="#777" stroke-width="0.8"/>
<line x1="440.80" y1="340.90" x2="440.80" y2="342.40" stroke="#777" stroke-width="0.8"/>
<line x1="447.10" y1="340.90" x2="447.10" y2="342.40" stroke="#777" stroke-width="0.8"/>
<line x1="453.40" y1="340.90" x2="453.40" y2="343.70" stroke="#444" stroke-width="1"/>
<line x1="459.70" y1="340.90" x2="459.70" y2="342.40" stroke="#777" stroke-width="0.8"/>
<line x1="466.00" y1="340.90" x2="466.00" y2="342.40" stroke="#777" stroke-width="0.8"/>
<line x1="472.30" y1="340.90" x2="472.30" y2="342.40" stroke="#777" stroke-width="0.8"/>
<line x1="478.60" y1="340.90" x2="478.60" y2="342.40" stroke="#777" stroke-width="0.8"/>
<line x1="484.90" y1="340.90" x2="484.90" y2="343.70" stroke="#444" stroke-width="1"/>
<line x1="491.20" y1="340.90" x2="491.20" y2="342.40" stroke="#777" stroke-width="0.8"/>
<line x1="497.50" y1="340.90" x2="497.50" y2="342.40" stroke="#777" stroke-width="0.8"/>
<text x="327.40" y="372.70" font-size="19.5" text-anchor="middle" >0</text>
<text x="358.90" y="372.70" font-size="19.5" text-anchor="middle" >2</text>
<text x="390.40" y="372.70" font-size="19.5" text-anchor="middle" >4</text>
<text x="421.90" y="372.70" font-size="19.5" text-anchor="middle" >6</text>
<text x="453.40" y="372.70" font-size="19.5" text-anchor="middle" >8</text>
<text x="484.90" y="372.70" font-size="19.5" text-anchor="middle" >10</text>
<text x="299.00" y="392.00" font-size="17.3" text-anchor="start" textLength="196" lengthAdjust="spacingAndGlyphs" >Rearrangements (HCLv)</text>
<text x="73.80" y="662.90" font-size="22.5" text-anchor="start" textLength="89.2" lengthAdjust="spacingAndGlyphs" >Number</text>
<text x="170.90" y="662.90" font-size="22.5" text-anchor="start" textLength="21.6" lengthAdjust="spacingAndGlyphs" >of</text>
<text x="201.70" y="662.90" font-size="22.5" text-anchor="start" textLength="187.5" lengthAdjust="spacingAndGlyphs" >Rearrangements</text>
<text x="396.30" y="662.90" font-size="22.5" text-anchor="start" textLength="79.0" lengthAdjust="spacingAndGlyphs" >(HCLc)</text>
<text x="473.00" y="590.80" font-size="31.0" text-anchor="start" textLength="22.1" lengthAdjust="spacingAndGlyphs" >B</text>
<rect x="182.1" y="475.3" width="255.9" height="86.6" fill="#fff" stroke="#666" stroke-width="1"/>
<text x="227.50" y="506.30" font-size="15.3" text-anchor="middle" >Mutated</text>
<text x="227.80" y="523.70" font-size="15.3" text-anchor="middle" textLength="61.6" lengthAdjust="spacingAndGlyphs" >------------</text>
<text x="227.80" y="542.40" font-size="15.3" text-anchor="middle" >Unmutated</text>
<rect x="277.5" y="486.50" width="36.6" height="7.8" fill="#000"/>
<text x="322.00" y="495.60" font-size="15.2" text-anchor="start" >&lt; 95%</text>
<rect x="277.5" y="505.35" width="36.6" height="7.8" fill="#000"/>
<rect x="279.4" y="507.15" width="32.8" height="4.2" fill="#888888"/>
<text x="322.00" y="514.45" font-size="15.2" text-anchor="start" textLength="101.2" lengthAdjust="spacingAndGlyphs" >&gt; 95% - &lt; 98%</text>
<rect x="277.5" y="524.05" width="36.6" height="7.8" fill="#000"/>
<rect x="279.4" y="525.85" width="32.8" height="4.2" fill="#c8c8c8"/>
<text x="322.00" y="533.15" font-size="15.2" text-anchor="start" textLength="109.6" lengthAdjust="spacingAndGlyphs" >&gt; 98% - &lt; 100%</text>
<rect x="277.5" y="542.85" width="36.6" height="7.8" fill="#000"/>
<rect x="279.4" y="544.65" width="32.8" height="4.2" fill="#fff"/>
<text x="322.00" y="551.95" font-size="15.2" text-anchor="start" >100%</text>
</svg>
</body></html>
